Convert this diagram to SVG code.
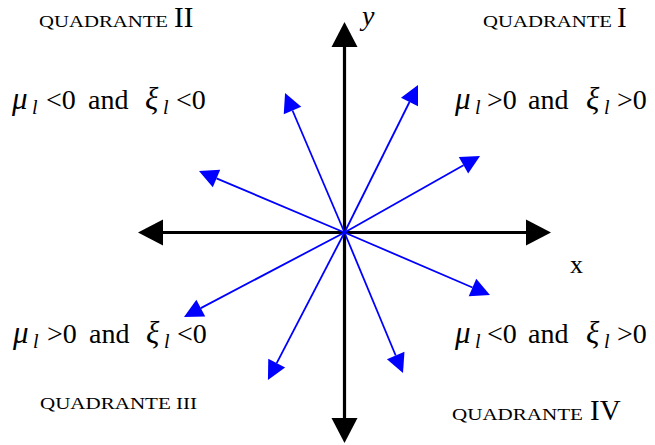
<svg xmlns="http://www.w3.org/2000/svg" width="655" height="445" viewBox="0 0 655 445">
<style>
  text { font-family: "Liberation Serif", "Times New Roman", serif; fill: #000; }
  .q { font-size: 16.5px; }
  .r { font-size: 29px; }
  .m { font-size: 28px; }
  .i { font-style: italic; }
  .g { font-size: 31px; font-style: italic; }
  .s { font-size: 20px; font-style: italic; }
  .ax { stroke: #000; stroke-width: 3.2; fill: none; }
  .bl { stroke: #0000ff; stroke-width: 1.8; fill: none; }
</style>
<defs>
  <marker id="ka" markerUnits="userSpaceOnUse" markerWidth="26" markerHeight="26" refX="0" refY="13" orient="auto-start-reverse" overflow="visible">
    <path d="M0,0 L25,13 L0,26 z" fill="#000"/>
  </marker>
  <marker id="ba" markerUnits="userSpaceOnUse" markerWidth="20" markerHeight="20" refX="0" refY="9.5" orient="auto" overflow="visible">
    <path d="M0,0 L19,9.5 L0,19 z" fill="#0000ff"/>
  </marker>
</defs>

<g id="connectors">
  <line id="axis-y" class="ax" x1="344.5" y1="418" x2="344.5" y2="47" marker-start="url(#ka)" marker-end="url(#ka)"/>
  <line id="axis-x" class="ax" x1="163" y1="232.5" x2="526" y2="232.5" marker-start="url(#ka)" marker-end="url(#ka)"/>
  <line class="bl" x1="344.5" y1="232.5" x2="292.5" y2="110.5" marker-end="url(#ba)"/>
  <line class="bl" x1="344.5" y1="232.5" x2="409.5" y2="102" marker-end="url(#ba)"/>
  <line class="bl" x1="344.5" y1="232.5" x2="463.5" y2="165.3" marker-end="url(#ba)"/>
  <line class="bl" x1="344.5" y1="232.5" x2="216.5" y2="178.4" marker-end="url(#ba)"/>
  <line class="bl" x1="344.5" y1="232.5" x2="472.5" y2="287.5" marker-end="url(#ba)"/>
  <line class="bl" x1="344.5" y1="232.5" x2="200.8" y2="308.1" marker-end="url(#ba)"/>
  <line class="bl" x1="344.5" y1="232.5" x2="276.7" y2="363.1" marker-end="url(#ba)"/>
  <line class="bl" x1="344.5" y1="232.5" x2="395.7" y2="355.5" marker-end="url(#ba)"/>
</g>

<g id="label-y"><text class="m i" x="362" y="25">y</text></g>
<g id="label-x"><text class="m" x="570" y="273" style="font-size:26px">x</text></g>

<g id="quadrant-II">
  <text class="q" x="39" y="27" textLength="129" lengthAdjust="spacingAndGlyphs">QUADRANTE</text>
  <text class="r" x="174" y="27">II</text>
  <text class="m" y="109"><tspan class="g" x="12">μ</tspan><tspan class="s" x="32" y="114">l</tspan><tspan x="46" y="109">&lt;0</tspan><tspan x="88">and</tspan><tspan class="g" x="145">ξ</tspan><tspan class="s" x="163" y="114">l</tspan><tspan x="176" y="109">&lt;0</tspan></text>
</g>

<g id="quadrant-I">
  <text class="q" x="483" y="27" textLength="129" lengthAdjust="spacingAndGlyphs">QUADRANTE</text>
  <text class="r" x="617" y="27">I</text>
  <text class="m" y="109"><tspan class="g" x="455">μ</tspan><tspan class="s" x="475" y="114">l</tspan><tspan x="487" y="109">&gt;0</tspan><tspan x="528">and</tspan><tspan class="g" x="586">ξ</tspan><tspan class="s" x="604" y="114">l</tspan><tspan x="617" y="109">&gt;0</tspan></text>
</g>

<g id="quadrant-III">
  <text class="m" y="343"><tspan class="g" x="13">μ</tspan><tspan class="s" x="33" y="348">l</tspan><tspan x="47" y="343">&gt;0</tspan><tspan x="89">and</tspan><tspan class="g" x="146">ξ</tspan><tspan class="s" x="164" y="348">l</tspan><tspan x="177" y="343">&lt;0</tspan></text>
  <text class="q" x="40" y="409" textLength="157" lengthAdjust="spacingAndGlyphs">QUADRANTE III</text>
</g>

<g id="quadrant-IV">
  <text class="m" y="343"><tspan class="g" x="455">μ</tspan><tspan class="s" x="475" y="348">l</tspan><tspan x="487" y="343">&lt;0</tspan><tspan x="528">and</tspan><tspan class="g" x="586">ξ</tspan><tspan class="s" x="604" y="348">l</tspan><tspan x="617" y="343">&gt;0</tspan></text>
  <text class="q" x="452" y="420" textLength="131" lengthAdjust="spacingAndGlyphs">QUADRANTE</text>
  <text class="r" x="590" y="420">IV</text>
</g>
</svg>
